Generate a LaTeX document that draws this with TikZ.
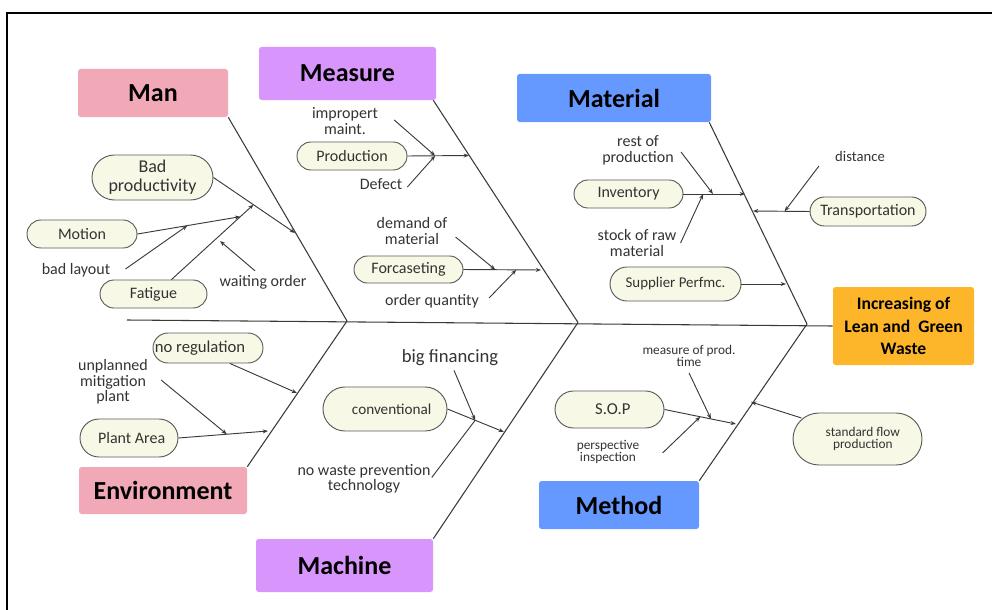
\documentclass[tikz,border=0pt]{standalone}
\usepackage{fontspec}
\setmainfont{Carlito}
\usetikzlibrary{shapes.misc,arrows.meta,calc}
\definecolor{manpink}{HTML}{F2A9B7}
\definecolor{measpurple}{HTML}{D895FC}
\definecolor{matblue}{HTML}{6699FF}
\definecolor{effectorange}{HTML}{FDB62A}
\definecolor{pillfill}{HTML}{F8F8E6}
\definecolor{pillline}{HTML}{5A5A5A}
\definecolor{lineclr}{HTML}{3A3A3A}
\definecolor{txtclr}{HTML}{333333}
\begin{document}
\begin{tikzpicture}[x=0.75pt,y=-0.75pt,
 catbox/.style={rectangle,rounded corners=2pt,inner sep=0pt,text=black,font=\fontsize{19.5}{22}\selectfont\bfseries},
 pill/.style={rounded rectangle,draw=pillline,fill=pillfill,line width=0.7pt,inner sep=0pt,text=txtclr,align=center,font=\fontsize{12}{14}\selectfont},
 lbl/.style={align=center,inner sep=0pt,text=txtclr,font=\fontsize{12}{12}\selectfont},
 small/.style={align=center,inner sep=0pt,text=txtclr,font=\fontsize{10}{9}\selectfont},
 bone/.style={draw=lineclr,line width=0.8pt},
 twig/.style={draw=lineclr,line width=0.7pt},
 arr/.style={twig,-{Stealth[length=4pt,width=3pt]}},
]
\useasboundingbox (0,0) rectangle (992,610);
\draw[line width=1.6pt,black] (7,610) -- (7,13) -- (992,13);

% category boxes
\node[catbox,fill=manpink,minimum width=112.5pt,minimum height=36pt] (man) at (153,93) {Man};
\node[catbox,fill=measpurple,minimum width=132.75pt,minimum height=39.75pt] (meas) at (347.5,73.5) {Measure};
\node[catbox,fill=matblue,minimum width=145.5pt,minimum height=36pt] (mat) at (614,98) {Material};
\node[catbox,fill=manpink,minimum width=126pt,minimum height=35.25pt] (env) at (163,490.5) {Environment};
\node[catbox,fill=measpurple,minimum width=132.75pt,minimum height=39.75pt] (mach) at (344.5,565.5) {Machine};
\node[catbox,fill=matblue,minimum width=120pt,minimum height=36pt] (meth) at (619,505) {Method};
\node[catbox,fill=effectorange,minimum width=105.75pt,minimum height=58.5pt,align=center,font=\fontsize{13.2}{17}\selectfont\bfseries] (effect) at (903.5,326) {Increasing of\\Lean and~ Green\\Waste};

% spine and bones
\coordinate (tail) at (127,320);
\coordinate (j1) at (347,321);
\coordinate (j2) at (578,322.5);
\coordinate (j3) at (807,324);
\draw[bone] (tail) -- (effect.west);
\draw[bone] (man.south east) -- (j1);
\draw[bone] (env.north east) -- (j1);
\draw[bone] ($(meas.south east)+(-3,0)$) -- (j2);
\draw[bone] (mach.north east) -- (j2);
\draw[bone] ($(mat.south east)+(-2,0)$) -- (j3);
\draw[bone] (meth.north east) -- (j3);

% Man
\node[pill,minimum width=90.75pt,minimum height=33.75pt,font=\fontsize{13.5}{14.5}\selectfont] (badprod) at (152.5,177.5) {Bad\\productivity};
\node[pill,minimum width=82.5pt,minimum height=21pt] (motion) at (82,234) {Motion};
\node[pill,minimum width=80.25pt,minimum height=21pt] (fatigue) at (153.5,294) {Fatigue};
\node[lbl] (badlayout) at (76,270) {bad layout};
\node[lbl] (waiting) at (263,282) {waiting order};
\coordinate (mb1) at (295,233);
\coordinate (mt1) at ($(badprod.east)!0.49!(mb1)$);
\coordinate (fatstart) at ($(fatigue.north)+(18,0)$);
\coordinate (mt2) at ($(fatstart)!0.84!(mt1)$);
\coordinate (mt3) at ($(motion.east)!0.485!(mt2)$);
\draw[arr] (badprod.east) -- (mb1);
\draw[arr] (fatstart) -- (mt1);
\draw[arr] (motion.east) -- (mt2);
\draw[arr] ($(badlayout.east)+(15,-1)$) -- (mt3);
\draw[arr] ($(waiting.north)+(-8,-4)$) -- (220,241);

% Measure
\node[lbl] (improp) at (345,121) {impropert\\maint.};
\node[pill,minimum width=82.5pt,minimum height=21pt] (production) at (352,156) {Production};
\node[lbl] (defect) at (381,184) {Defect};
\coordinate (mb2) at (469,155.5);
\coordinate (mj1) at ($(production.east)!0.45!(mb2)$);
\draw[arr] (production.east) -- (mb2);
\draw[arr] ($(improp.east)+(16,-1)$) -- (mj1);
\draw[arr] ($(defect.east)+(5,3)$) -- (mj1);
\node[lbl] (demand) at (412,231) {demand of\\material};
\node[pill,minimum width=81.75pt,minimum height=20.25pt] (forc) at (408.5,269.5) {Forcaseting};
\node[lbl] (orderq) at (432,301) {order quantity};
\coordinate (mb3) at (541,270);
\coordinate (fj1) at ($(forc.east)!0.41!(mb3)$);
\coordinate (fj2) at ($(forc.east)!0.68!(mb3)$);
\draw[arr] (forc.east) -- (mb3);
\draw[arr] ($(demand.east)+(8,6)$) -- (fj1);
\draw[arr] ($(orderq.east)+(10,-3)$) -- (fj2);

% Material
\node[lbl] (rest) at (638,150) {rest of\\production};
\node[pill,minimum width=81.75pt,minimum height=21pt] (inv) at (628.5,194) {Inventory};
\node[lbl] (stock) at (637,243) {stock of raw\\material};
\coordinate (mb4) at (745,194);
\coordinate (ij1) at ($(inv.east)!0.48!(mb4)$);
\coordinate (ij2) at ($(inv.east)!0.32!(mb4)$);
\draw[arr] (inv.east) -- (mb4);
\draw[arr] ($(rest.east)+(7,2)$) -- (ij1);
\draw[arr] ($(stock.east)+(4,0)$) -- (ij2);
\node[lbl,font=\fontsize{11}{12}\selectfont] (distance) at (860,156) {distance};
\node[pill,minimum width=87pt,minimum height=21.75pt] (transp) at (868,211.5) {Transportation};
\coordinate (mb5) at (753,211);
\coordinate (tj) at ($(transp.west)!0.44!(mb5)$);
\draw[arr] (transp.west) -- (mb5);
\draw[arr] ($(distance.west)+(-16,10)$) -- (tj);
\node[pill,minimum width=98.25pt,minimum height=25.5pt,font=\fontsize{11.2}{13}\selectfont] (supplier) at (675.5,284) {Supplier Perfmc.};
\coordinate (mb6) at (786,284);
\draw[arr] (supplier.east) -- (mb6);

% Environment
\node[pill,minimum width=82.5pt,minimum height=22.5pt,font=\fontsize{12.5}{14}\selectfont] (noreg) at (208,348) {no regulation\hspace{12pt}};
\coordinate (eb1) at (297,393);
\draw[arr] ($(noreg.south)+(22,0)$) -- (eb1);
\node[lbl,font=\fontsize{12}{11.6}\selectfont] (unplanned) at (113,382) {unplanned\\mitigation\\plant};
\node[pill,minimum width=73.5pt,minimum height=28.5pt] (plantarea) at (129,438) {\hspace{4pt}Plant Area};
\coordinate (eb2) at (268,431);
\coordinate (ej) at ($(plantarea.east)!0.54!(eb2)$);
\draw[arr] (plantarea.east) -- (eb2);
\draw[arr] ($(unplanned.east)+(13,-2)$) -- (ej);

% Machine
\node[lbl,font=\fontsize{14}{15}\selectfont] (bigfin) at (450,358) {big financing};
\node[pill,minimum width=93pt,minimum height=33pt,font=\fontsize{11.4}{13}\selectfont] (conv) at (385,409) {\hspace{10pt}conventional};
\node[lbl,font=\fontsize{12}{11}\selectfont] (nowaste) at (364,479) {no waste prevention\\technology};
\coordinate (cb1) at (504,432);
\coordinate (cj) at ($(conv.east)!0.49!(cb1)$);
\draw[arr] (conv.east) -- (cb1);
\draw[arr] ($(bigfin.south)+(4,4)$) -- (cj);
\draw[twig] ($(nowaste.north east)+(1,13)$) -- (cj);

% Method
\node[small] (measprod) at (689,356) {measure of prod.\\time};
\node[pill,minimum width=81.75pt,minimum height=27.75pt,font=\fontsize{12.5}{14}\selectfont] (sop) at (609.5,409.5) {\hspace{5pt}S.O.P};
\node[small] (persp) at (608,452) {perspective\\inspection};
\coordinate (sb1) at (736,424);
\coordinate (sj1) at ($(sop.east)!0.65!(sb1)$);
\coordinate (sj2) at ($(sop.east)!0.5!(sb1)$);
\draw[arr] (sop.east) -- (sb1);
\draw[arr] ($(measprod.south)+(0,6)$) -- (sj1);
\draw[arr] ($(persp.east)+(23,1)$) -- (sj2);
\node[pill,minimum width=96.75pt,minimum height=39pt,font=\fontsize{10}{9}\selectfont] (stdflow) at (857.5,439) {\hspace{8pt}standard flow\\\hspace{8pt}production};
\coordinate (sb2) at (751,402);
\draw[arr] ($(stdflow.west)+(9,-21)$) -- (sb2);
\end{tikzpicture}
\end{document}
